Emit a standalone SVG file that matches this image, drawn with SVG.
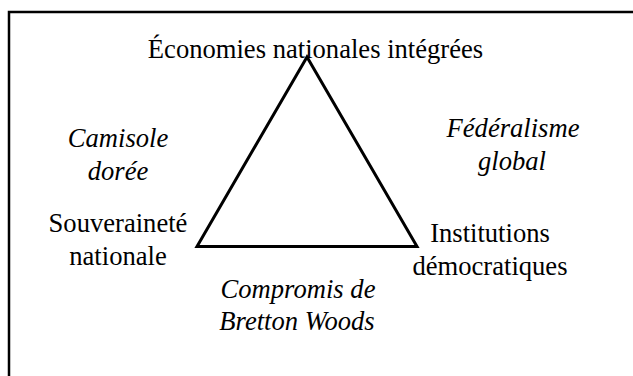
<svg xmlns="http://www.w3.org/2000/svg" width="633" height="376" viewBox="0 0 633 376">
<style>
text{font-family:"Liberation Serif","Times New Roman",serif;font-size:26.6px;fill:#000;text-anchor:middle}
.it{font-style:italic}
.edge{fill:none;stroke:#000;stroke-width:3;stroke-linejoin:miter}
</style>
<rect x="0" y="0" width="633" height="376" fill="#fff"/>
<rect x="9" y="12" width="640" height="380" fill="none" stroke="#000" stroke-width="2.5"/>
<g id="connectors">
<polygon class="edge" points="307,57 197,246.5 417,246.5"/>
</g>
<g id="node-economies"><text x="315.5" y="58">Économies nationales intégrées</text></g>
<g id="node-souverainete"><text x="118" y="232">Souveraineté</text><text x="118" y="265">nationale</text></g>
<g id="node-institutions"><text x="490" y="242">Institutions</text><text x="490" y="275">démocratiques</text></g>
<g id="label-camisole"><text class="it" x="118" y="147">Camisole</text><text class="it" x="118" y="180">dorée</text></g>
<g id="label-federalisme"><text class="it" x="513" y="137">Fédéralisme</text><text class="it" x="512" y="170">global</text></g>
<g id="label-bretton"><text class="it" x="298" y="298">Compromis de</text><text class="it" x="297" y="330">Bretton Woods</text></g>
</svg>
